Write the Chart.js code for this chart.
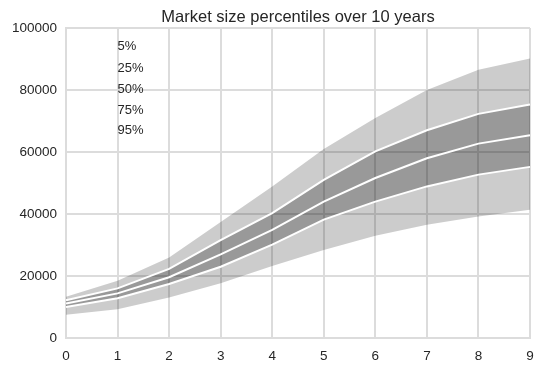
<!DOCTYPE html>
<html lang="en">
<head>
    <meta charset="UTF-8">
    <title>Market size percentiles</title>
    <script src="https://cdn.jsdelivr.net/npm/chart.js"></script>
    <style>
        html, body { margin: 0; padding: 0; background: #fff; }
        #wrap { width: 545px; height: 372px; }
    </style>
</head>
<body>
    <div id="wrap"><canvas id="marketChart"></canvas></div>

    <script>
        // Years and percentile values
        const years = [0, 1, 2, 3, 4, 5, 6, 7, 8, 9];
        const p5  = [7500, 9300, 13100, 17700, 23200, 28400, 33000, 36500, 39200, 41400];
        const p25 = [10000, 12800, 17400, 23000, 30100, 38200, 44000, 48900, 52700, 55200];
        const p50 = [11100, 14400, 19600, 27000, 34900, 44000, 51600, 58000, 62700, 65400];
        const p75 = [12200, 16000, 22300, 31600, 40300, 51000, 60200, 67000, 72300, 75300];
        const p95 = [13300, 18500, 26000, 37400, 48900, 61000, 71000, 80000, 86500, 90200];

        // percentile labels placed at x = 1
        const labelNames = ["5%", "25%", "50%", "75%", "95%"];
        const labelY = [93900, 87100, 80300, 73500, 66800];
        const labelX = 1;

        const chartTitle = "Market size percentiles over 10 years";
        const textColor = "#262626";
        const gridColor = "#dcdcdc";
        const fontFamily = "Arial, 'Liberation Sans', sans-serif";

        // title centred over the plot area plus the percentile labels
        const textLayer = {
            id: "textLayer",
            afterDatasetsDraw(chart) {
                const ctx = chart.ctx;
                const xs = chart.scales.x, ys = chart.scales.y;
                const area = chart.chartArea;
                ctx.save();
                ctx.fillStyle = textColor;
                ctx.font = "13px " + fontFamily;
                ctx.textAlign = "left";
                ctx.textBaseline = "middle";
                labelNames.forEach((t, i) => {
                    ctx.fillText(t, xs.getPixelForValue(labelX), ys.getPixelForValue(labelY[i]));
                });
                ctx.font = "16.5px " + fontFamily;
                ctx.textAlign = "center";
                ctx.fillText(chartTitle, (area.left + area.right) / 2, area.top - 11);
                ctx.restore();
            }
        };

        const hidden = { borderWidth: 0, pointRadius: 0, borderColor: "rgba(0,0,0,0)" };
        const whiteLine = { borderWidth: 2, pointRadius: 0, borderColor: "#ffffff", fill: false, order: 0 };

        new Chart(document.getElementById("marketChart"), {
            type: "line",
            data: {
                labels: years,
                datasets: [
                    { ...hidden, data: p5, fill: false, order: 2 },
                    { ...hidden, data: p95, fill: 0, backgroundColor: "rgba(0,0,0,0.2)", order: 2 },
                    { ...hidden, data: p25, fill: false, order: 1 },
                    { ...hidden, data: p75, fill: 2, backgroundColor: "rgba(0,0,0,0.25)", order: 1 },
                    { ...whiteLine, data: p25 },
                    { ...whiteLine, data: p50 },
                    { ...whiteLine, data: p75 }
                ]
            },
            options: {
                responsive: true,
                maintainAspectRatio: false,
                animation: false,
                elements: { line: { tension: 0 } },
                layout: { padding: { left: 0, right: 15, top: 28, bottom: 0 } },
                plugins: {
                    legend: { display: false },
                    tooltip: { enabled: false },
                    title: { display: false }
                },
                scales: {
                    x: {
                        type: "category",
                        offset: false,
                        grid: { color: gridColor, lineWidth: 2, drawTicks: false },
                        border: { display: true, color: gridColor, width: 2 },
                        ticks: { color: textColor, font: { family: fontFamily, size: 13.5 }, padding: 10, maxRotation: 0 },
                        afterFit(scale) { scale.height = 34; }
                    },
                    y: {
                        min: 0,
                        max: 100000,
                        grid: { color: gridColor, lineWidth: 2, drawTicks: false },
                        border: { display: true, color: gridColor, width: 2 },
                        ticks: {
                            stepSize: 20000,
                            color: textColor,
                            font: { family: fontFamily, size: 13.5 },
                            padding: 9,
                            callback: v => String(v)
                        },
                        afterFit(scale) { scale.width = 66; }
                    }
                }
            },
            plugins: [textLayer]
        });
    </script>
</body>
</html>
